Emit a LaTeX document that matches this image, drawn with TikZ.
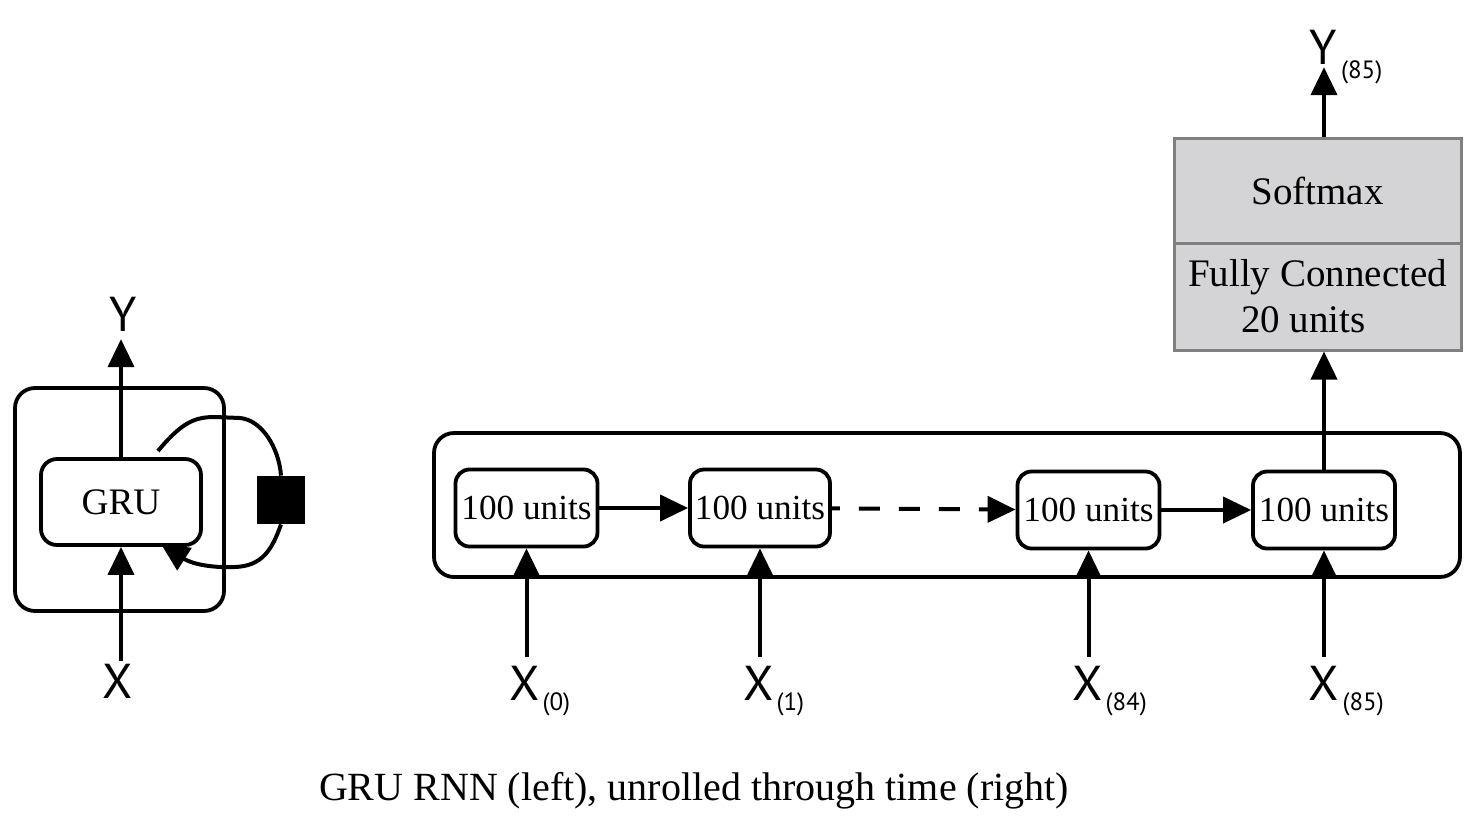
\documentclass[tikz,border=0pt]{standalone}
\usepackage{fontspec}
\setmainfont{Liberation Serif}
\newfontfamily\sansf{PT Sans}
\usetikzlibrary{arrows.meta}
\definecolor{boxgray}{RGB}{212,212,214}
\definecolor{edgegray}{RGB}{127,127,127}
\begin{document}
\begin{tikzpicture}[x=0.5pt,y=-0.5pt,
  arr/.style={line width=2pt,-{Triangle[length=14pt,width=13pt]}},
  plain/.style={line width=2pt},
  unitbox/.style={draw,line width=1.9pt,rounded corners=7pt,minimum width=71pt,minimum height=38.5pt,inner sep=0pt,font=\fontsize{17.6}{20}\selectfont},
  outerbox/.style={draw,line width=1.9pt,rounded corners=10pt,inner sep=0pt},
  graybox/.style={draw=edgegray,fill=boxgray,line width=1.5pt,minimum width=143.5pt,inner sep=0pt,align=center,font=\fontsize{19.5}{23}\selectfont},
  xlab/.style={font=\sansf\fontsize{24.5}{25}\selectfont,inner sep=0pt,outer sep=0pt},
  sublab/.style={font=\sansf\fontsize{12.5}{13}\selectfont,inner sep=0pt,anchor=base west}
]
\useasboundingbox (0,0) rectangle (1480,816);

% ---------- left: folded GRU cell ----------
\node[outerbox,minimum width=104.5pt,minimum height=111.5pt] (cell) at (119.5,499.5) {};
\node[unitbox,minimum width=80pt,minimum height=43pt,rounded corners=8pt,font=\fontsize{18.7}{20}\selectfont] (gru) at (121,502) {GRU};
\node[fill=black,minimum size=24pt,inner sep=0pt] (delay) at (281,500) {};
\node[xlab] (ytop) at (123,314) {Y};
\node[xlab] (xbot) at (118,681) {X};
\coordinate (loopstart) at (158,451);
\coordinate (loopend) at (161,544);

\draw[arr] (gru.north) -- ([yshift=-4pt]gru.north |- ytop.south);
\draw[arr] ([yshift=1.5pt]gru.south |- xbot.north) -- (gru.south);
\draw[plain] (loopstart) .. controls (182,422) and (195,417) .. (215,417)
  -- (240,418) .. controls (262,420) and (279,448) .. (delay.north);
\draw[arr] (delay.south) .. controls (272,550) and (262,566) .. (235,567)
  .. controls (212,568) and (192,564) .. (loopend);

% ---------- right: unrolled ----------
\node[outerbox,minimum width=513pt,minimum height=72pt] (rnn) at (947,505) {};
\node[unitbox] (b1) at (526.5,508) {100 units};
\node[unitbox,minimum width=70pt] (b2) at (760,508) {100 units};
\node[unitbox] (b3) at (1088.5,510) {100 units};
\node[unitbox] (b4) at (1324,510) {100 units};

\draw[arr] (b1) -- (b2);
\draw[arr,dash pattern=on 10.5pt off 9.5pt,dash phase=6.5pt] (b2) -- (b3);
\draw[arr] (b3) -- (b4);

\node[xlab] (x0) at (525,683) {X};
\node[sublab] (s0) at ([xshift=1pt,yshift=-5pt]x0.base east) {(0)};
\node[xlab] (x1) at (759,683) {X};
\node[sublab] (s1) at ([xshift=1pt,yshift=-5pt]x1.base east) {(1)};
\node[xlab] (x84) at (1088,683) {X};
\node[sublab] (s84) at ([xshift=1pt,yshift=-5pt]x84.base east) {(84)};
\node[xlab] (x85) at (1324,683) {X};
\node[sublab] (s85) at ([xshift=1.5pt,yshift=-5pt]x85.base east) {(85)};

\draw[arr] ([yshift=4.5pt]b1.south |- x0.north) -- (b1.south);
\draw[arr] ([yshift=4.5pt]b2.south |- x1.north) -- (b2.south);
\draw[arr] ([yshift=4.5pt]b3.south |- x84.north) -- (b3.south);
\draw[arr] ([yshift=4.5pt]b4.south |- x85.north) -- (b4.south);

% ---------- output layers ----------
\node[graybox,minimum height=53.5pt] (fc) at (1317.5,296.5) {Fully Connected\\20 units\hspace*{14pt}};
\node[graybox,minimum height=52.5pt] (sm) at (1317.5,190.5) {Softmax};
\draw[arr] (b4.north) -- (b4.north |- fc.south);

\node[xlab] (y85) at (1323,47) {Y};
\node[sublab] (sy) at ([xshift=2pt,yshift=-7pt]y85.base east) {(85)};
\draw[arr] (b4.north |- sm.north) -- ([yshift=-1.5pt]b4.north |- y85.south);

% ---------- caption ----------
\node[font=\fontsize{20}{24}\selectfont,inner sep=0pt,anchor=base] (caption) at (694,800) {GRU RNN (left), unrolled through time (right)};
\end{tikzpicture}
\end{document}
